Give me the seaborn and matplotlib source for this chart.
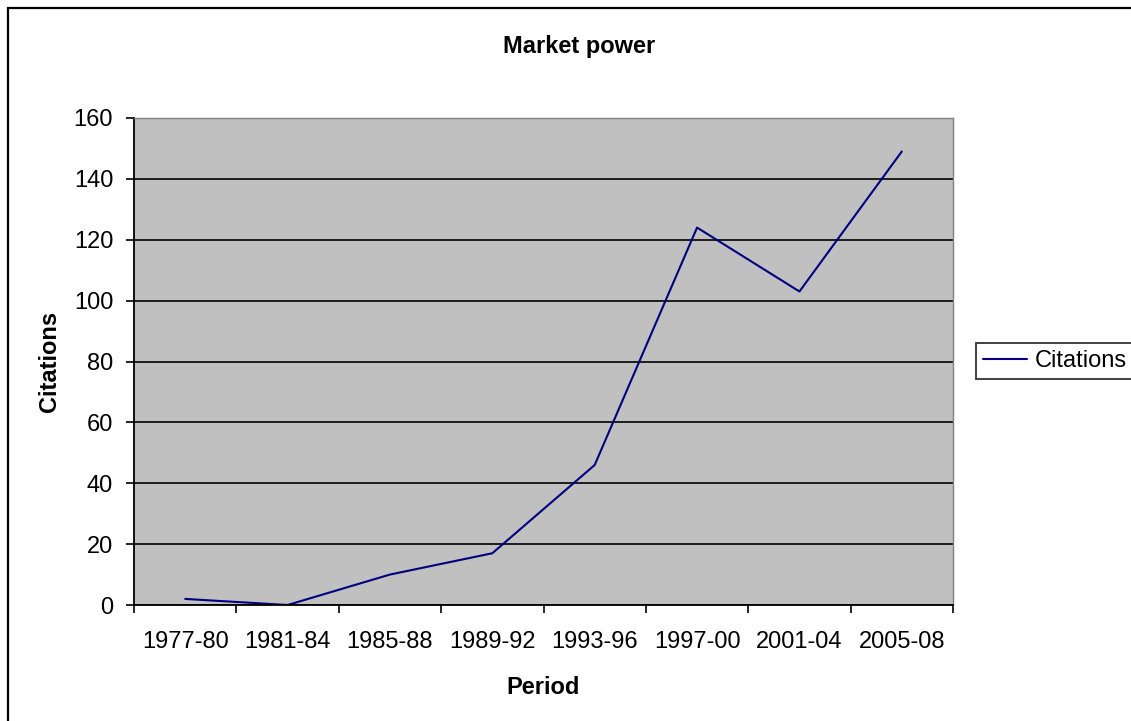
import numpy as np
import pandas as pd
import seaborn as sns
import matplotlib.pyplot as plt
from matplotlib.patches import Rectangle

periods = ["1977-80", "1981-84", "1985-88", "1989-92", "1993-96", "1997-00", "2001-04", "2005-08"]
citations = [2, 0, 10, 17, 46, 124, 103, 149]

df = pd.DataFrame({"Period": periods, "Citations": citations})

sns.set_style("white")
plt.rcParams['font.family'] = ['Liberation Sans', 'DejaVu Sans']
plt.rcParams.update({"text.color": "black", "axes.labelcolor": "black",
                     "xtick.color": "black", "ytick.color": "black"})

W, H = 1131, 721
fig = plt.figure(figsize=(W / 100, H / 100), dpi=100)
ax = fig.add_axes([134 / W, 1 - 605 / H, (953 - 134) / W, (605 - 118) / H])

# outer chart border (runs off the right and bottom edges, as in the source)
fig.patches.append(Rectangle((8 / W, -0.1), 1.2, 1.1 - 8 / H, transform=fig.transFigure,
                             fill=False, edgecolor="black", linewidth=1.6))

sns.lineplot(data=df, x="Period", y="Citations", ax=ax, color="#000080", linewidth=1.5,
             label="Citations")

ax.set_facecolor("#C0C0C0")
ax.set_xlim(-0.5, len(periods) - 0.5)
ax.set_ylim(0, 160)
ax.set_yticks(np.arange(0, 161, 20))
ax.yaxis.grid(True, color="black", linewidth=1.2)
ax.set_axisbelow(True)

ax.set_xticks(range(len(periods)))
ax.set_xticklabels(periods)
ax.set_xticks(np.arange(-0.5, len(periods), 1), minor=True)
ax.tick_params(axis="x", which="major", length=0, pad=19, labelsize=17)
ax.tick_params(axis="x", which="minor", length=6, width=1.2, direction="out")
ax.tick_params(axis="y", length=6, width=1.2, direction="out", labelsize=17, pad=9)
ax.tick_params(bottom=True, left=True, which="both")

for side in ["left", "bottom"]:
    ax.spines[side].set_color("black")
    ax.spines[side].set_linewidth(1.3)
for side in ["top", "right"]:
    ax.spines[side].set_color("#808080")
    ax.spines[side].set_linewidth(1)

ax.set_xlabel("Period", fontsize=17, fontweight="bold", labelpad=16)
ax.set_ylabel("Citations", fontsize=17, fontweight="bold", labelpad=9)
fig.text(503 / W, 1 - 53 / H, "Market power", ha="left", va="baseline",
         fontsize=17, fontweight="bold")

leg = ax.legend(loc="center left", bbox_to_anchor=(976 / W, 1 - 361 / H),
                bbox_transform=fig.transFigure, frameon=True, fancybox=False,
                fontsize=17, handlelength=1.9, handletextpad=0.3, borderpad=0.28,
                borderaxespad=0)
leg.get_frame().set_edgecolor("black")
leg.get_frame().set_linewidth(1.3)

fig.savefig("out.png", dpi=100)
